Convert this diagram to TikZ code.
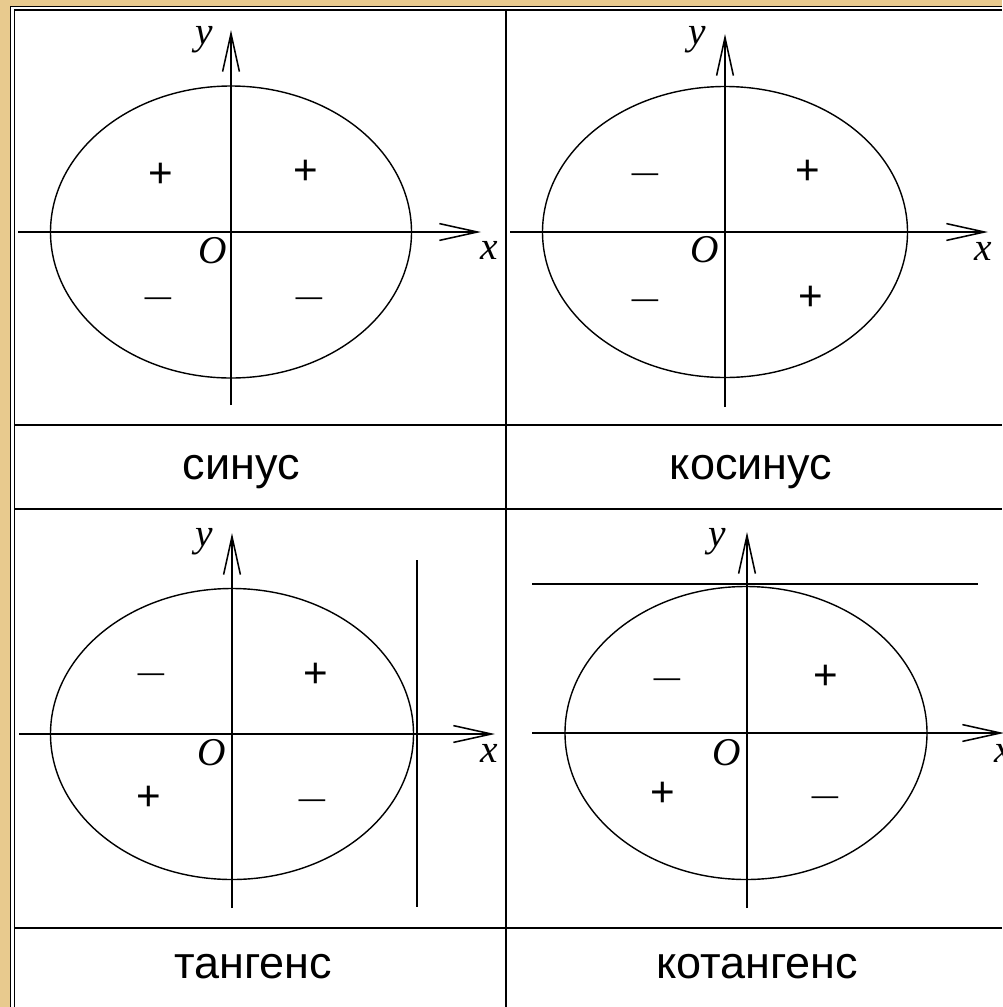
\documentclass[tikz,border=0pt]{standalone}
\usepackage{fontspec}
\setmainfont{Liberation Serif}
\setsansfont{Liberation Sans}
\usetikzlibrary{arrows.meta}
\definecolor{Parch}{HTML}{E8CA8E}
\begin{document}
\begin{tikzpicture}[
  x=0.025cm,y=-0.025cm,
  axline/.style={line width=1.4pt,-{Straight Barb[length=0.95cm,width=0.42cm,line width=1.1pt]}},
  oval/.style={line width=1pt},
  tline/.style={line width=1.4pt},
  rule/.style={line width=1.4pt},
  border/.style={line width=0.9pt},
  cellname/.style={font=\sffamily\fontsize{32}{32}\selectfont,inner sep=0pt},
  lbl/.style={font=\itshape\fontsize{28}{28}\selectfont,inner sep=0pt},
  signplus/.style={font=\sffamily\fontsize{30}{30}\selectfont,inner sep=0pt},
  signminus/.style={font=\sffamily\fontsize{19}{19}\selectfont,inner sep=0pt,yshift=-0.13cm}
]
\useasboundingbox (0,0) rectangle (1002,1007);
\fill[Parch] (0,0) rectangle (1002,1007);
\fill[white] (10,6) rectangle (1002,1007);
\draw[border] (10.5,1007) -- (10.5,6.5) -- (1002,6.5);
\draw[border] (14.5,1007) -- (14.5,10) -- (1002,10);

% table
\coordinate (vtop) at (506,10);
\coordinate (vbot) at (506,1007);
\draw[rule] (vtop) -- (vbot);
\foreach \yy in {425,509,928} \draw[rule] (14.5,\yy) -- (1002,\yy);

% sine
\coordinate (sinO) at (231,232);
\coordinate (sinW) at (18,232);
\coordinate (sinE) at (481,232);
\coordinate (sinS) at (231,405);
\coordinate (sinN) at (231,30);
\draw[oval] (sinO) ellipse [x radius=180.5,y radius=146];
\draw[axline] (sinW) -- (sinE);
\draw[axline] (sinS) -- (sinN);
\node[lbl] (sinx) at (489,250) {x};
\node[lbl] (siny) at (204,40) {y};
\node[lbl] (sino) at (213,251) {O};
\node[signplus] (sinq1) at (306,172) {+};
\node[signplus] (sinq2) at (161,175) {+};
\node[signminus] (sinq3) at (158,296) {—};
\node[signminus] (sinq4) at (309,296) {—};
\node[cellname] (sinlab) at (241,472) {синус};

% cosine
\coordinate (cosO) at (725,232);
\coordinate (cosW) at (510,232);
\coordinate (cosE) at (988,232);
\coordinate (cosS) at (725,407);
\coordinate (cosN) at (725,34);
\draw[oval] (cosO) ellipse [x radius=182.5,y radius=145.5];
\draw[axline] (cosW) -- (cosE);
\draw[axline] (cosS) -- (cosN);
\node[lbl] (cosx) at (983,251) {x};
\node[lbl] (cosy) at (697,40) {y};
\node[lbl] (coso) at (705,250) {O};
\node[signplus] (cosq1) at (808,172) {+};
\node[signminus] (cosq2) at (645,172) {—};
\node[signminus] (cosq3) at (645,298) {—};
\node[signplus] (cosq4) at (811,298) {+};
\node[cellname] (coslab) at (751,472) {косинус};

% tangent
\coordinate (tanO) at (232,734);
\coordinate (tanW) at (19,734);
\coordinate (tanE) at (495,734);
\coordinate (tanS) at (232,908);
\coordinate (tanN) at (232,533);
\coordinate (tantop) at (417,560);
\coordinate (tanbot) at (417,907);
\draw[oval] (tanO) ellipse [x radius=181.5,y radius=145.5];
\draw[tline] (tantop) -- (tanbot);
\draw[axline] (tanW) -- (tanE);
\draw[axline] (tanS) -- (tanN);
\node[lbl] (tanx) at (489,753) {x};
\node[lbl] (tany) at (204,542) {y};
\node[lbl] (tano) at (212,753) {O};
\node[signplus] (tanq1) at (316,675) {+};
\node[signminus] (tanq2) at (151,672) {—};
\node[signplus] (tanq3) at (149,798) {+};
\node[signminus] (tanq4) at (312,798) {—};
\node[cellname] (tanlab) at (253,967) {тангенс};

% cotangent
\coordinate (cotO) at (746,733);
\coordinate (cotW) at (532,733);
\coordinate (cotE) at (1004,733);
\coordinate (cotS) at (747,908);
\coordinate (cotN) at (747,532);
\coordinate (cotleft) at (532,584);
\coordinate (cotright) at (978,584);
\draw[oval] (cotO) ellipse [x radius=181,y radius=146.5];
\draw[tline] (cotleft) -- (cotright);
\draw[axline] (cotW) -- (cotE);
\draw[axline] (cotS) -- (cotN);
\node[lbl] (cotx) at (1003,753) {x};
\node[lbl] (coty) at (717,542) {y};
\node[lbl] (coto) at (727,753) {O};
\node[signplus] (cotq1) at (826,677) {+};
\node[signminus] (cotq2) at (667,677) {—};
\node[signplus] (cotq3) at (663,794) {+};
\node[signminus] (cotq4) at (825,795) {—};
\node[cellname] (cotlab) at (757,967) {котангенс};
\end{tikzpicture}
\end{document}
